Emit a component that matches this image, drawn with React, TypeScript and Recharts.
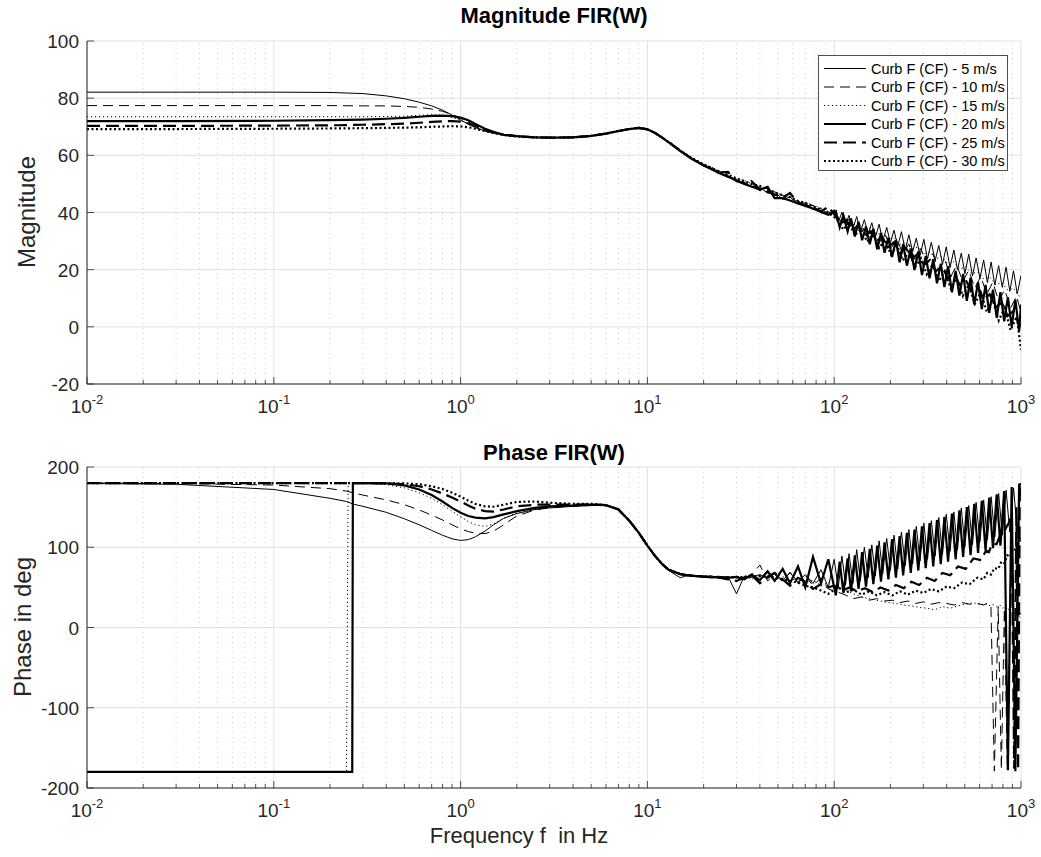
import React from "react";
import { LineChart, Line, XAxis, YAxis, CartesianGrid, ReferenceLine } from "recharts";

// frequency grids (Hz)
const lowFreq = [0.01, 0.03, 0.1, 0.2, 0.3, 0.4, 0.5, 0.6, 0.7, 0.8, 0.9, 1.0, 1.1, 1.2, 1.35, 1.5, 1.7, 2.0, 2.5, 3, 4, 5, 6, 7, 8, 9, 10];
const midFreq = [11, 12, 13, 15, 17, 20, 22, 24, 27, 30, 33, 36, 40, 44, 48, 53, 58, 64, 70, 77, 85, 93];
const hiFreqA = [100, 108, 116, 125, 134, 145, 156, 168, 180, 194, 209, 225, 242, 261, 281, 302, 325, 350, 377, 406, 437, 470, 506, 545, 587, 632, 680, 732, 788, 848, 913, 983, 1000];
const hiFreqB = [103, 112, 120, 129, 139, 150, 162, 174, 187, 201, 217, 233, 251, 271, 291, 313, 337, 363, 391, 421, 453, 488, 525, 566, 609, 656, 706, 760, 818, 880, 948, 1000];
const denseFreqA = [
  100, 105, 110, 115, 120, 126, 132, 138, 145, 152, 159, 166, 174, 182, 191, 200, 209, 219, 229, 240,
  251, 263, 275, 288, 302, 316, 331, 347, 363, 380, 398, 417, 437, 457, 479, 501, 525, 550, 575, 603,
  631, 661, 692, 724, 759, 794, 832, 871, 912, 955, 1000,
];
const denseFreqB = [
  102, 107, 112, 118, 123, 129, 135, 141, 148, 155, 162, 170, 178, 186, 195, 204, 214, 224, 234, 245,
  257, 269, 282, 295, 309, 324, 339, 355, 372, 389, 407, 427, 447, 468, 490, 513, 537, 562, 589, 617,
  646, 676, 708, 741, 776, 813, 851, 891, 933, 977, 1000,
];
const phLowFreq = [0.01, 0.03, 0.1, 0.2, 0.245, 0.25, 0.263, 0.265, 0.3, 0.4, 0.5, 0.6, 0.7, 0.8, 0.9, 1.0, 1.1, 1.2, 1.35, 1.5, 1.7, 2.0, 2.5, 3, 4, 5, 6, 7, 8, 9, 10];
const phHiFreqA = [100, 110, 121, 133, 146, 161, 177, 195, 214, 236, 259, 285, 314, 345, 380, 418, 460, 506, 556, 612, 650, 673, 700, 740, 770, 800, 830, 860, 890, 920, 945, 965, 985, 1000];
const phHiFreqB = [105, 116, 127, 140, 154, 169, 186, 205, 225, 248, 273, 300, 330, 363, 399, 439, 483, 531, 584, 630, 660, 690, 720, 755, 785, 815, 845, 875, 905, 930, 955, 975, 992, 1000];

// magnitude, per wind speed
const mag5Low = [82.1, 82.1, 82.1, 82.0, 81.6, 80.8, 79.8, 78.6, 77.3, 75.8, 74.1, 72.4, 70.9, 69.7, 68.5, 67.8, 67.1, 66.6, 66.3, 66.2, 66.3, 66.8, 67.6, 68.5, 69.2, 69.6, 69.1];
const mag10Low = [77.4, 77.4, 77.4, 77.4, 77.3, 77.3, 77.1, 76.8, 76.2, 75.4, 74.3, 73.0, 71.6, 70.3, 68.9, 68.0, 67.3, 66.7, 66.3, 66.2, 66.3, 66.8, 67.6, 68.5, 69.2, 69.6, 69.1];
const mag15Low = [73.5, 73.5, 73.5, 73.5, 73.5, 73.6, 73.7, 74.0, 74.2, 74.0, 73.3, 72.2, 70.9, 69.8, 68.6, 67.8, 67.1, 66.7, 66.3, 66.2, 66.3, 66.8, 67.6, 68.5, 69.2, 69.6, 69.1];
const mag20Low = [72.0, 72.0, 72.1, 72.3, 72.5, 72.8, 73.1, 73.5, 73.8, 73.9, 73.7, 73.2, 72.3, 71.0, 69.3, 68.2, 67.2, 66.7, 66.3, 66.2, 66.3, 66.8, 67.6, 68.5, 69.2, 69.6, 69.1];
const mag25Low = [70.3, 70.3, 70.4, 70.5, 70.7, 70.9, 71.1, 71.4, 71.7, 71.9, 72.0, 71.8, 71.2, 70.3, 69.0, 68.0, 67.2, 66.7, 66.3, 66.2, 66.3, 66.8, 67.6, 68.5, 69.2, 69.6, 69.1];
const mag30Low = [69.2, 69.2, 69.3, 69.4, 69.5, 69.6, 69.7, 69.8, 70.0, 70.1, 70.2, 70.1, 69.8, 69.3, 68.5, 67.8, 67.1, 66.6, 66.3, 66.2, 66.3, 66.8, 67.6, 68.5, 69.2, 69.6, 69.1];

const mag5Mid = [67.8, 66.2, 64.6, 61.6, 59.2, 56.6, 55.5, 53.8, 52.9, 51.0, 50.6, 49.0, 48.8, 46.8, 47.2, 44.6, 45.4, 43.0, 43.4, 41.0, 41.4, 39.4];
const mag10Mid = [67.8, 66.3, 64.7, 61.7, 59.3, 56.8, 55.0, 54.4, 52.3, 51.9, 49.9, 49.8, 47.6, 47.9, 45.8, 46.0, 43.8, 44.2, 42.0, 42.5, 39.8, 40.2];
const mag15Mid = [67.9, 66.4, 64.9, 62.0, 59.6, 57.0, 55.9, 54.6, 53.4, 52.0, 51.2, 50.1, 49.2, 48.0, 47.3, 46.0, 45.6, 44.2, 43.6, 42.5, 41.6, 40.3];
const mag20Mid = [67.8, 66.2, 64.5, 61.5, 59.0, 56.4, 55.2, 53.9, 52.5, 51.2, 50.0, 49.1, 48.0, 49.0, 45.0, 45.0, 44.2, 43.2, 42.3, 41.4, 40.2, 39.2];
const mag25Mid = [67.8, 66.2, 64.6, 61.6, 59.1, 56.5, 55.2, 54.0, 54.2, 51.0, 50.2, 51.0, 48.0, 47.2, 46.3, 45.2, 46.8, 43.4, 42.6, 41.6, 40.4, 42.0];
const mag30Mid = [67.8, 66.2, 64.6, 61.7, 59.3, 56.8, 55.6, 54.5, 53.2, 51.9, 51.0, 50.0, 49.3, 48.0, 47.1, 46.0, 45.4, 44.0, 43.4, 42.2, 41.0, 39.9];

const mag5Hi = [
  41.0, 36.5, 40.1, 35.6, 39.0, 34.4, 38.6, 33.2, 37.5, 32.5, 36.4, 31.3, 35.9, 30.0, 34.8, 29.4, 33.8, 28.2, 33.3, 26.9,
  32.2, 26.3, 31.0, 25.0, 30.6, 23.8, 29.6, 23.2, 28.5, 21.9, 28.0, 20.7, 26.9, 20.0, 25.8, 18.6, 25.4, 17.8, 24.1, 16.9,
  23.4, 15.5, 22.7, 14.6, 21.4, 13.8, 20.9, 12.4, 19.6, 11.5, 18.0,
];
const mag10Hi = [39.2, 35.6, 37.8, 33.6, 36.0, 31.4, 34.4, 29.4, 32.6, 27.4, 30.8, 25.4, 29.0, 23.6, 27.4, 21.8, 25.6, 19.8, 23.4, 17.6, 21.6, 15.8, 19.8, 13.6, 17.6, 11.4, 15.6, 9.0, 13.0, 6.6, 10.8, 4.8];
const mag15Hi = [38.8, 37.2, 37.9, 35.6, 36.3, 33.9, 34.6, 32.2, 33.0, 30.6, 31.3, 28.9, 29.6, 27.2, 27.9, 25.5, 26.2, 23.8, 24.5, 22.0, 22.8, 20.3, 21.0, 18.5, 19.2, 16.7, 17.4, 14.8, 15.5, 12.9, 13.5, 10.6, 11.0];
const mag20Hi = [
  40.5, 34.8, 39.0, 33.4, 37.9, 31.6, 36.8, 30.3, 35.1, 28.9, 34.2, 27.1, 32.8, 25.9, 31.2, 24.4, 30.3, 22.6, 28.9, 21.4,
  27.4, 19.9, 26.4, 18.1, 24.8, 17.0, 23.7, 15.2, 22.1, 13.9, 21.2, 12.1, 19.6, 10.9, 18.5, 9.1, 17.2, 7.9, 15.6, 6.2,
  14.7, 4.9, 13.0, 3.1, 12.1, 1.9, 10.4, 0.1, 9.5, -1.5, 7.8,
];
const mag25Hi = [39.4, 36.0, 37.4, 33.8, 35.4, 31.8, 33.4, 29.8, 31.6, 27.8, 29.6, 25.8, 27.6, 23.8, 25.6, 21.6, 23.4, 19.4, 21.2, 17.0, 18.8, 14.6, 16.4, 12.2, 14.0, 9.6, 11.4, 6.8, 8.6, 3.8, 5.6, 0.2, 1.0];
const mag30Hi = [37.8, 34.0, 36.4, 32.0, 34.4, 29.8, 32.4, 27.6, 30.4, 25.4, 28.4, 23.2, 26.2, 20.8, 24.0, 18.4, 21.8, 16.0, 19.4, 13.4, 17.0, 10.8, 14.6, 8.0, 12.0, 5.2, 9.4, 2.2, 6.6, -1.2, 3.6, -8.0];

// phase in deg, per wind speed
const ph5Low = [179.5, 178.5, 172, 161, 157, 156.5, 154, 153.8, 151, 143.5, 135.5, 128, 121, 115, 110.5, 108.5, 109.5, 113, 120, 128, 136, 142, 147, 149, 151, 152, 152, 147, 133, 118, 102];
const ph10Low = [180, 179.5, 177.5, 173, 170, 169.5, 168, 168, 165, 159, 153, 146.5, 140, 134, 128, 123, 119.5, 117.5, 117, 120, 128, 139, 146.5, 149.5, 151, 152, 152, 147, 133, 118, 102];
const ph15Low = [-179.5, -179.5, -179.5, -179.5, -179.5, 180, 179.8, 179.8, 179.5, 178, 174, 168, 161, 153, 145, 138, 132, 128, 126, 129, 136, 143, 148, 150, 151.5, 152.5, 152, 147, 133, 118, 102];
const ph20Low = [-180, -180, -180, -180, -180, -180, -180, 180, 180, 179.5, 177, 172, 165, 157, 149, 143, 139, 137, 136, 137.5, 141, 145, 149, 151, 152, 153, 152.5, 147, 133, 118, 102];
const ph25Low = [180, 180, 180, 180, 180, 180, 180, 180, 180, 179.5, 178.5, 176, 172, 167, 162, 157, 152, 148, 145, 144.5, 147, 151, 153, 153, 153, 153.5, 152.5, 147, 133, 118, 102];
const ph30Low = [180, 180, 180, 180, 180, 180, 180, 180, 180, 180, 179.5, 178.5, 176, 172.5, 168, 163, 158, 154, 151, 150.5, 153, 156.5, 157, 155.5, 154, 154, 152.5, 147, 133, 118, 102];

const ph5Mid = [89, 78, 71, 62, 66, 63, 64.5, 61.5, 63.5, 42, 64, 62.5, 66, 61, 67, 59, 68, 57, 66, 55, 72, 50];
const ph10Mid = [89, 79, 72, 66.5, 64.5, 63.5, 62, 63.5, 60.5, 64, 59.5, 65, 78, 58, 66, 57, 69, 55, 65, 52, 62, 48];
const ph15Mid = [89.5, 79.5, 72.5, 67, 65, 64, 63.5, 63, 63, 63, 63.5, 60, 64, 62, 66, 63.5, 58, 62, 56, 59, 52, 56];
const ph20Mid = [89, 79, 72, 66.5, 64.5, 63.5, 62.5, 63, 62, 63, 60, 66, 59, 70, 58, 73, 55, 76, 50, 88, 55, 85];
const ph25Mid = [89, 79, 72, 66.5, 64.5, 63.5, 63, 62.5, 60, 58, 62, 66, 55, 63, 68, 60, 52, 62, 57, 48, 54, 50];
const ph30Mid = [89, 79, 72, 66.5, 64.5, 63.5, 63, 62.5, 62.5, 62.5, 63, 63.5, 64, 64.5, 62, 60, 58, 56, 52, 50, 46, 42];

const ph5Hi = [
  85, 49, 89, 53, 92, 55, 97, 58, 100, 62, 103, 64, 108, 67, 111, 71, 115, 73, 119, 77,
  122, 79, 126, 83, 130, 85, 133, 89, 137, 91, 141, 95, 144, 97, 149, 101, 152, 103, 156, 107,
  159, 109, 163, 113, 167, 115, 171, 119, 174, 121, 178,
];
const ph10Hi = [44, 40, 36, 38, 34, 36, 33, 34, 31, 33, 30, 32, 29, 31, 30, 28, 31, 29, 30, 28, 30, 28, -179, 26, -177, 24, -178, 20, 19, 18, 16, 14, 12, 10];
const ph15Hi = [55, 48, 44, 40, 37, 35, 33, 31, 30, 28, 27, 25, 24, 22, 26, 24, 27, 29, 31, 28, 30, 27, 29, 26, 28, 24, 27, 22, 25, 20, 22, 18, 20, 15];
const ph20Hi = [
  40, 82, 43, 86, 45, 90, 48, 94, 51, 98, 54, 102, 57, 106, 60, 110, 62, 114, 65, 118,
  68, 122, 71, 126, 74, 130, 76, 134, 79, 138, 82, 142, 85, 146, 88, 150, 90, 154, 93, 158,
  96, 162, 99, 166, 102, 170, -178, 175, -179, 178, 179,
];
const ph25Hi = [52, 46, 50, 45, 49, 44, 50, 46, 53, 49, 57, 53, 62, 58, 68, 65, 76, 73, 86, 84, 96, 94, 104, 104, 114, 116, 124, 130, 140, -176, 150, -178, 176, 170];
const ph30Hi = [50, 44, 47, 41, 45, 40, 44, 40, 45, 41, 46, 43, 48, 45, 51, 49, 56, 54, 62, 60, 68, 66, 74, 73, 82, 80, 90, 88, 98, 97, 106, 104, 112, 110];

const seriesLabels = [
  "Curb F (CF) - 5 m/s",
  "Curb F (CF) - 10 m/s",
  "Curb F (CF) - 15 m/s",
  "Curb F (CF) - 20 m/s",
  "Curb F (CF) - 25 m/s",
  "Curb F (CF) - 30 m/s",
];

const decades = [0.01, 0.1, 1, 10, 100, 1000];
const magTicks = [-20, 0, 20, 40, 60, 80, 100];
const phaseTicks = [-200, -100, 0, 100, 200];

const FONT = '"Liberation Sans", Arial, Helvetica, sans-serif';
const INK = "#262626";
const GRID = "#e1e1e1";

// line styles: thin solid/dashed/dotted, then thick
const styles = [
  { width: 1, dash: undefined },
  { width: 1, dash: "10 6" },
  { width: 1, dash: "1.2 2.8" },
  { width: 2.2, dash: undefined },
  { width: 2.2, dash: "13 6" },
  { width: 2.2, dash: "2 2.5" },
];

const zip = (f: number[], v: number[]) => f.map((x, i) => ({ f: x, v: v[i] }));

const magData = [
  [...zip(lowFreq, mag5Low), ...zip(midFreq, mag5Mid), ...zip(denseFreqA, mag5Hi)],
  [...zip(lowFreq, mag10Low), ...zip(midFreq, mag10Mid), ...zip(hiFreqB, mag10Hi)],
  [...zip(lowFreq, mag15Low), ...zip(midFreq, mag15Mid), ...zip(hiFreqA, mag15Hi)],
  [...zip(lowFreq, mag20Low), ...zip(midFreq, mag20Mid), ...zip(denseFreqB, mag20Hi)],
  [...zip(lowFreq, mag25Low), ...zip(midFreq, mag25Mid), ...zip(hiFreqA, mag25Hi)],
  [...zip(lowFreq, mag30Low), ...zip(midFreq, mag30Mid), ...zip(hiFreqB, mag30Hi)],
];

const phaseData = [
  [...zip(phLowFreq, ph5Low), ...zip(midFreq, ph5Mid), ...zip(denseFreqA, ph5Hi)],
  [...zip(phLowFreq, ph10Low), ...zip(midFreq, ph10Mid), ...zip(phHiFreqB, ph10Hi)],
  [...zip(phLowFreq, ph15Low), ...zip(midFreq, ph15Mid), ...zip(phHiFreqA, ph15Hi)],
  [...zip(phLowFreq, ph20Low), ...zip(midFreq, ph20Mid), ...zip(denseFreqB, ph20Hi)],
  [...zip(phLowFreq, ph25Low), ...zip(midFreq, ph25Mid), ...zip(phHiFreqA, ph25Hi)],
  [...zip(phLowFreq, ph30Low), ...zip(midFreq, ph30Mid), ...zip(phHiFreqB, ph30Hi)],
];

// 2..9 within each decade, for minor ticks and dotted grid
const minorFreqs = decades
  .slice(0, -1)
  .flatMap((d) => [2, 3, 4, 5, 6, 7, 8, 9].map((m) => Number((d * m).toPrecision(3))));
const xTicks = [...decades, ...minorFreqs].sort((a, b) => a - b);

const isDecade = (v: number) => Math.abs(Math.log10(v) - Math.round(Math.log10(v))) < 1e-6;

const FreqTick = (props: any) => {
  const { x, y, payload } = props;
  const v = payload.value as number;
  const major = isDecade(v);
  return (
    <g>
      <line x1={x} x2={x} y1={y} y2={y - (major ? 7 : 4)} stroke={INK} strokeWidth={0.8} />
      {major && (
        <text x={x} y={y + 29} textAnchor="middle" fontSize={19} fill={INK} fontFamily={FONT}>
          <tspan>10</tspan>
          <tspan dy={-9} fontSize={13}>{String(Math.round(Math.log10(v)))}</tspan>
        </text>
      )}
    </g>
  );
};

const ValueTick = (props: any) => {
  const { x, y, payload } = props;
  return (
    <g>
      <line x1={x} x2={x + 7} y1={y} y2={y} stroke={INK} strokeWidth={0.8} />
      <text x={x - 8} y={y + 7} textAnchor="end" fontSize={19} fill={INK} fontFamily={FONT}>
        {payload.value}
      </text>
    </g>
  );
};

const gridLines = () => [
  ...decades.map((d) => (
    <ReferenceLine key={`M${d}`} x={d} stroke={GRID} strokeWidth={1} ifOverflow="visible" />
  )),
  ...minorFreqs.map((d) => (
    <ReferenceLine key={`m${d}`} x={d} stroke="#c4c4c4" strokeWidth={0.8} strokeDasharray="1 4" />
  )),
];

const seriesLines = (data: { f: number; v: number }[][]) =>
  data.map((pts, i) => (
    <Line
      key={seriesLabels[i]}
      data={pts}
      dataKey="v"
      name={seriesLabels[i]}
      type="linear"
      stroke="#000"
      strokeWidth={styles[i].width}
      strokeDasharray={styles[i].dash}
      dot={false}
      activeDot={false}
      isAnimationActive={false}
    />
  ));

const Panel = ({
  height,
  margin,
  domain,
  ticks,
  data,
}: {
  height: number;
  margin: { top: number; right: number; bottom: number; left: number };
  domain: [number, number];
  ticks: number[];
  data: { f: number; v: number }[][];
}) => (
  <LineChart width={1041} height={height} margin={margin}>
    <CartesianGrid vertical={false} stroke={GRID} strokeWidth={1} />
    {gridLines()}
    <XAxis
      dataKey="f"
      type="number"
      scale="log"
      domain={[0.01, 1000]}
      ticks={xTicks}
      interval={0}
      allowDataOverflow
      height={30}
      tickSize={0}
      tickMargin={0}
      tick={<FreqTick />}
      axisLine={{ stroke: INK, strokeWidth: 1 }}
    />
    <YAxis
      type="number"
      domain={domain}
      ticks={ticks}
      interval={0}
      allowDataOverflow
      width={87}
      tickSize={0}
      tickMargin={0}
      tick={<ValueTick />}
      axisLine={{ stroke: INK, strokeWidth: 1 }}
    />
    {seriesLines(data)}
  </LineChart>
);

const Legend = () => (
  <svg width={190} height={116} style={{ position: "absolute", left: 818, top: 55 }}>
    <rect x={0.5} y={0.5} width={189} height={115} fill="#fff" stroke={INK} strokeWidth={0.8} />
    {seriesLabels.map((label, i) => {
      const cy = 13.5 + i * 18.5;
      return (
        <g key={label}>
          <line
            x1={6}
            x2={48}
            y1={cy}
            y2={cy}
            stroke="#000"
            strokeWidth={styles[i].width}
            strokeDasharray={styles[i].dash}
          />
          <text x={53} y={cy + 5} fontSize={14.5} fill="#000" fontFamily={FONT}>
            {label}
          </text>
        </g>
      );
    })}
  </svg>
);

const Labels = () => (
  <svg
    width={1041}
    height={857}
    style={{ position: "absolute", left: 0, top: 0, pointerEvents: "none" }}
  >
    <text x={554} y={23} textAnchor="middle" fontSize={22} fontWeight="bold" fill="#000" fontFamily={FONT}>
      Magnitude FIR(W)
    </text>
    <text x={554} y={460} textAnchor="middle" fontSize={22} fontWeight="bold" fill="#000" fontFamily={FONT}>
      Phase FIR(W)
    </text>
    <text
      x={26}
      y={212}
      textAnchor="middle"
      dominantBaseline="central"
      transform="rotate(-90 26 212)"
      fontSize={24}
      fill={INK}
      fontFamily={FONT}
    >
      Magnitude
    </text>
    <text
      x={22}
      y={627}
      textAnchor="middle"
      dominantBaseline="central"
      transform="rotate(-90 22 627)"
      fontSize={24}
      fill={INK}
      fontFamily={FONT}
    >
      Phase in deg
    </text>
    <text x={519} y={843} textAnchor="middle" fontSize={22} fill={INK} fontFamily={FONT} xmlSpace="preserve">
      Frequency f  in Hz
    </text>
  </svg>
);

export default function App() {
  return (
    <div style={{ position: "absolute", left: 0, top: 0, width: 1041, height: 857, background: "#fff" }}>
      <div style={{ position: "absolute", left: 0, top: 0 }}>
        <Panel
          height={430}
          margin={{ top: 41, right: 20, bottom: 16, left: 0 }}
          domain={[-20, 100]}
          ticks={magTicks}
          data={magData}
        />
      </div>
      <div style={{ position: "absolute", left: 0, top: 430 }}>
        <Panel
          height={427}
          margin={{ top: 37, right: 20, bottom: 39, left: 0 }}
          domain={[-200, 200]}
          ticks={phaseTicks}
          data={phaseData}
        />
      </div>
      <Labels />
      <Legend />
    </div>
  );
}
